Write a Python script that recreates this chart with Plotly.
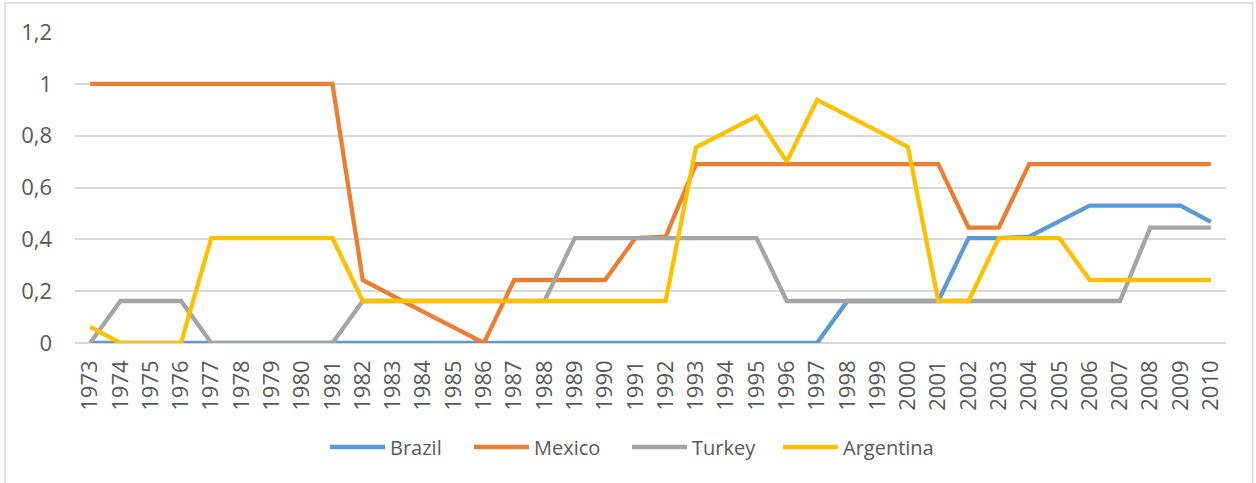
import plotly.graph_objects as go

years = [str(y) for y in range(1973, 2011)]

brazil = [0, 0, 0, 0, 0, 0, 0, 0, 0, 0,
          0, 0, 0, 0, 0, 0, 0, 0, 0, 0,
          0, 0, 0, 0, 0, 0.162, 0.162, 0.162, 0.162, 0.405,
          0.405, 0.41, 0.47, 0.53, 0.53, 0.53, 0.53, 0.467]
mexico = [1, 1, 1, 1, 1, 1, 1, 1, 1, 0.243,
          0.18, 0.12, 0.06, 0, 0.243, 0.243, 0.243, 0.243, 0.405, 0.41,
          0.69, 0.69, 0.69, 0.69, 0.69, 0.69, 0.69, 0.69, 0.69, 0.445,
          0.445, 0.69, 0.69, 0.69, 0.69, 0.69, 0.69, 0.69]
turkey = [0, 0.162, 0.162, 0.162, 0, 0, 0, 0, 0, 0.162,
          0.162, 0.162, 0.162, 0.162, 0.162, 0.162, 0.405, 0.405, 0.405, 0.405,
          0.405, 0.405, 0.405, 0.162, 0.162, 0.162, 0.162, 0.162, 0.162, 0.162,
          0.162, 0.162, 0.162, 0.162, 0.162, 0.445, 0.445, 0.445]
argentina = [0.062, 0, 0, 0, 0.405, 0.405, 0.405, 0.405, 0.405, 0.162,
             0.162, 0.162, 0.162, 0.162, 0.162, 0.162, 0.162, 0.162, 0.162, 0.162,
             0.755, 0.815, 0.875, 0.70, 0.938, 0.878, 0.817, 0.757, 0.162, 0.162,
             0.405, 0.405, 0.405, 0.243, 0.243, 0.243, 0.243, 0.243]

series = [
    ("Brazil", brazil, "#5B9BD5"),
    ("Mexico", mexico, "#ED7D31"),
    ("Turkey", turkey, "#A5A5A5"),
    ("Argentina", argentina, "#FFC000"),
]

y_ticks = [0, 0.2, 0.4, 0.6, 0.8, 1, 1.2]
y_labels = ["0", "0,2", "0,4", "0,6", "0,8", "1", "1,2"]

# legend swatch start positions (px), like the Excel legend
legend_x = [330, 474, 632, 783]

text_color = "#595959"
grid_color = "#D9D9D9"

# plot area on the page: x 75..1226, y 32..343
W, H = 1256, 483
pl, pt, pr, pb = 75, 32, 1226, 343
pw, ph = pr - pl, pb - pt


def px_x(sx):
    return (sx - pl) / pw


def px_y(sy):
    return (pb - sy) / ph


fig = go.Figure()
for name, vals, color in series:
    fig.add_trace(go.Scatter(
        x=years, y=vals, mode="lines", name=name,
        line=dict(color=color, width=4.3),
    ))

fig.update_layout(
    width=W, height=H,
    margin=dict(l=pl, r=W - pr, t=pt, b=H - pb),
    paper_bgcolor="white", plot_bgcolor="white",
    font=dict(family="Open Sans", size=20, color=text_color),
    showlegend=False,
)
fig.update_xaxes(
    type="category", range=[-0.5, len(years) - 0.5],
    tickangle=-90, showgrid=False, showline=False, zeroline=False,
    ticks="", ticklabelstandoff=12,
    tickfont=dict(size=22, color=text_color),
)
fig.update_yaxes(
    range=[0, 1.2], tickvals=y_ticks, ticktext=y_labels,
    showgrid=True, gridcolor=grid_color, gridwidth=1.5,
    zeroline=True, zerolinecolor=grid_color, zerolinewidth=1.5,
    showline=False, ticks="", ticklabelstandoff=22,
    tickfont=dict(size=22, color=text_color),
)

# legend drawn like Excel: long line swatch followed by the name
ly = px_y(447)
for (name, vals, color), sx in zip(series, legend_x):
    fig.add_shape(type="line", xref="paper", yref="paper",
                  x0=px_x(sx), x1=px_x(sx + 55), y0=ly, y1=ly,
                  line=dict(color=color, width=4.3))
    fig.add_annotation(xref="paper", yref="paper", x=px_x(sx + 58), y=ly,
                       text=name, showarrow=False, xanchor="left",
                       yanchor="middle", font=dict(size=20, color=text_color))

# chart area border
fig.add_shape(type="rect", xref="paper", yref="paper",
              x0=px_x(5), x1=px_x(1252.5), y0=px_y(520), y1=px_y(3),
              line=dict(color=grid_color, width=1.5), layer="below")

fig.write_html("out.html", config={"displayModeBar": False},
               post_script="document.body.style.margin='0';")
